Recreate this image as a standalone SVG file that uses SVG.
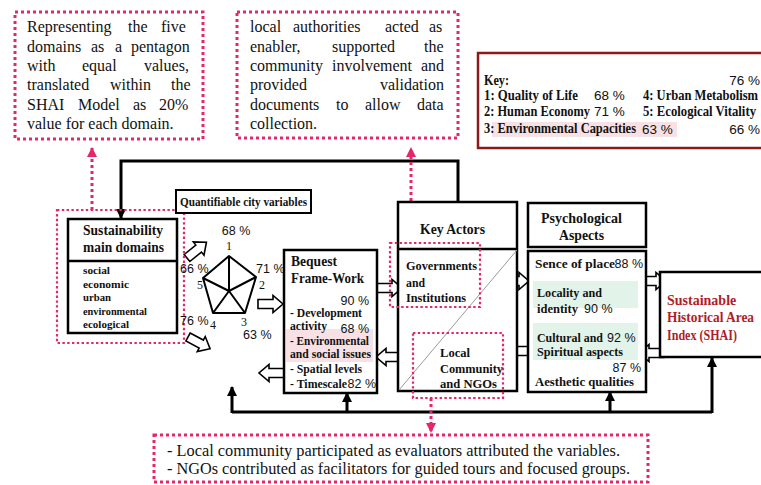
<svg xmlns="http://www.w3.org/2000/svg" width="761" height="485" viewBox="0 0 761 485">
<style>
.serif{font-family:"Liberation Serif","Times New Roman",serif;fill:#111}
.b{font-weight:bold}
.sans{font-family:"Liberation Sans",Arial,sans-serif;fill:#111}
.box{fill:#fff;stroke:#000;stroke-width:2.5}
.dot{fill:none;stroke:#e5266a;stroke-width:3;stroke-dasharray:3 3}
.dots{fill:none;stroke:#e5266a;stroke-width:2.2;stroke-dasharray:2.4 2.4}
.ha{fill:#fff;stroke:#000;stroke-width:1.6;stroke-linejoin:miter}
.conn{fill:none;stroke:#000;stroke-width:3}
.note{font-size:16px}
.red{fill:#b01c2a}
</style>
<defs>
<marker id="ah" viewBox="0 0 10 10" refX="9" refY="5" markerWidth="10" markerHeight="10" markerUnits="userSpaceOnUse" orient="auto">
<path d="M0,0 L10,5 L0,10 Z" fill="#000"/>
</marker>
<marker id="pah" viewBox="0 0 10 10" refX="9" refY="5" markerWidth="10" markerHeight="10" markerUnits="userSpaceOnUse" orient="auto">
<path d="M0,0 L10,5 L0,10 Z" fill="#e5266a"/>
</marker>
<path id="harrow" d="M0,-4.5 H15 V-8.5 L25,0 L15,8.5 V4.5 H0 Z"/>
</defs>
<rect width="761" height="485" fill="#fff"/>

<!-- Notes -->
<g id="note1">
<rect class="dot" x="15" y="12" width="188" height="127"/>
<text class="serif note"><tspan x="27" y="32">Representing</tspan><tspan x="128" y="32">the</tspan><tspan x="161" y="32">five</tspan></text>
<text class="serif note"><tspan x="27" y="52">domains</tspan><tspan x="91" y="52">as</tspan><tspan x="115" y="52">a</tspan><tspan x="131" y="52">pentagon</tspan></text>
<text class="serif note"><tspan x="27" y="71">with</tspan><tspan x="82" y="71">equal</tspan><tspan x="144" y="71">values,</tspan></text>
<text class="serif note"><tspan x="27" y="90">translated</tspan><tspan x="110" y="90">within</tspan><tspan x="171" y="90">the</tspan></text>
<text class="serif note"><tspan x="27" y="110">SHAI</tspan><tspan x="78" y="110">Model</tspan><tspan x="133" y="110">as</tspan><tspan x="159" y="110">20%</tspan></text>
<text class="serif note" x="27" y="129">value for each domain.</text>
</g>

<g id="note2">
<rect class="dot" x="237" y="12" width="221" height="126"/>
<text class="serif note"><tspan x="250" y="32">local</tspan><tspan x="293" y="32">authorities</tspan><tspan x="385" y="32">acted</tspan><tspan x="429" y="32">as</tspan></text>
<text class="serif note"><tspan x="250" y="52">enabler,</tspan><tspan x="332" y="52">supported</tspan><tspan x="424" y="52">the</tspan></text>
<text class="serif note"><tspan x="250" y="71">community</tspan><tspan x="332" y="71">involvement</tspan><tspan x="421" y="71">and</tspan></text>
<text class="serif note"><tspan x="250" y="90">provided</tspan><tspan x="380" y="90">validation</tspan></text>
<text class="serif note"><tspan x="250" y="110">documents</tspan><tspan x="336" y="110">to</tspan><tspan x="365" y="110">allow</tspan><tspan x="417" y="110">data</tspan></text>
<text class="serif note" x="250" y="129">collection.</text>
</g>

<g id="note3">
<rect class="dot" x="154" y="435" width="494" height="47"/>
<text class="serif" font-size="16" x="167" y="456" textLength="453" lengthAdjust="spacingAndGlyphs">- Local community participated as evaluators attributed the variables.</text>
<text class="serif" font-size="16" x="167" y="474" textLength="463" lengthAdjust="spacingAndGlyphs">- NGOs contributed as facilitators for guided tours and focused groups.</text>
</g>

<!-- Key -->
<g id="key">
<rect x="478" y="53" width="290" height="95" fill="#fff" stroke="#8b1a1a" stroke-width="2.5"/>
<rect x="492" y="122" width="185" height="15" fill="#f8e1e4"/>
<text class="serif b" font-size="14" x="484" y="85" textLength="25" lengthAdjust="spacingAndGlyphs">Key:</text>
<text class="sans" font-size="13.5" x="760" y="85" text-anchor="end">76 %</text>
<text class="serif b" font-size="14" x="484" y="100" textLength="94" lengthAdjust="spacingAndGlyphs">1: Quality of Life</text>
<text class="sans" font-size="13.5" x="594" y="100">68 %</text>
<text class="serif b" font-size="14" x="643" y="100" textLength="115" lengthAdjust="spacingAndGlyphs">4: Urban Metabolism</text>
<text class="serif b" font-size="14" x="484" y="116" textLength="106" lengthAdjust="spacingAndGlyphs">2: Human Economy</text>
<text class="sans" font-size="13.5" x="594" y="116">71 %</text>
<text class="serif b" font-size="14" x="643" y="116" textLength="113" lengthAdjust="spacingAndGlyphs">5: Ecological Vitality</text>
<text class="serif b" font-size="14" x="484" y="133" textLength="152" lengthAdjust="spacingAndGlyphs">3: Environmental Capacities</text>
<text class="sans" font-size="13.5" x="642" y="134">63 %</text>
<text class="sans" font-size="13.5" x="760" y="134" text-anchor="end">66 %</text>
</g>

<!-- Connectors -->
<g id="connectors">
<path class="conn" d="M458,202 V161 H121 V218" marker-end="url(#ah)"/>
<path class="conn" d="M232,412 H712"/>
<path class="conn" d="M232,413 V387" marker-end="url(#ah)"/>
<path class="conn" d="M347,413 V393" marker-end="url(#ah)"/>
<path class="conn" d="M610,413 V392" marker-end="url(#ah)"/>
<path class="conn" d="M712,413 V358" marker-end="url(#ah)"/>
<path class="dot" d="M92,210 V148" marker-end="url(#pah)"/>
<path class="dot" d="M411,243 V148" marker-end="url(#pah)"/>
<path class="dot" d="M431,398 V432" marker-end="url(#pah)"/>
<use href="#harrow" class="ha" transform="translate(258,304)"/>
<use href="#harrow" class="ha" transform="translate(377,288)"/>
<use href="#harrow" class="ha" transform="translate(401,357) rotate(180)"/>
<use href="#harrow" class="ha" transform="translate(284,373) rotate(180)"/>
<use href="#harrow" class="ha" transform="translate(504,281)"/>
<use href="#harrow" class="ha" transform="translate(528,351) rotate(180)"/>
<use href="#harrow" class="ha" transform="translate(641,281)"/>
<use href="#harrow" class="ha" transform="translate(664,353) rotate(180)"/>
<use href="#harrow" class="ha" transform="translate(187,258) rotate(-39)"/>
<use href="#harrow" class="ha" transform="translate(188,337) rotate(28)"/>
</g>

<!-- Sustainability main domains -->
<g id="sustainability">
<rect class="dots" x="57" y="210" width="127" height="133"/>
<rect class="box" x="68" y="219" width="109" height="114"/>
<line x1="68" y1="261" x2="177" y2="261" stroke="#000" stroke-width="2.5"/>
<text class="serif b" font-size="15" x="83" y="235" textLength="80" lengthAdjust="spacingAndGlyphs">Sustainability</text>
<text class="serif b" font-size="15" x="83" y="252" textLength="81" lengthAdjust="spacingAndGlyphs">main domains</text>
<text class="serif b" font-size="11" x="83" y="274" textLength="27" lengthAdjust="spacingAndGlyphs">social</text>
<text class="serif b" font-size="11" x="83" y="288" textLength="46" lengthAdjust="spacingAndGlyphs">economic</text>
<text class="serif b" font-size="11" x="83" y="301" textLength="28" lengthAdjust="spacingAndGlyphs">urban</text>
<text class="serif b" font-size="11" x="83" y="315" textLength="64" lengthAdjust="spacingAndGlyphs">environmental</text>
<text class="serif b" font-size="11" x="83" y="328" textLength="46" lengthAdjust="spacingAndGlyphs">ecological</text>
</g>

<g id="quantifiable">
<rect x="176" y="190" width="135" height="23" fill="#fff" stroke="#000" stroke-width="2"/>
<text class="serif b" font-size="11.5" x="180" y="206" textLength="127" lengthAdjust="spacingAndGlyphs">Quantifiable city variables</text>
</g>

<g id="pentagon">
<path d="M229,256 L256,277 L245,313 L213,313 L203,278 Z M229,256 L229,291 M203,278 L229,291 L256,277 M213,313 L229,291 L245,313" fill="none" stroke="#000" stroke-width="2" stroke-linejoin="round"/>
<text class="sans" font-size="12.5" x="236" y="235" text-anchor="middle">68 %</text>
<text class="serif" font-size="12" x="229" y="250" text-anchor="middle">1</text>
<text class="sans" font-size="12.5" x="256" y="273">71 %</text>
<text class="serif" font-size="12" x="262" y="289" text-anchor="middle">2</text>
<text class="sans" font-size="12.5" x="180" y="273">66 %</text>
<text class="serif" font-size="12" x="200" y="289" text-anchor="middle">5</text>
<text class="sans" font-size="12.5" x="180" y="325">76 %</text>
<text class="serif" font-size="12" x="213" y="329" text-anchor="middle">4</text>
<text class="serif" font-size="12" x="244" y="326" text-anchor="middle">3</text>
<text class="sans" font-size="12.5" x="243" y="339">63 %</text>
</g>

<!-- Bequest -->
<g id="bequest">
<rect class="box" x="284" y="250" width="93" height="143"/>
<rect x="286" y="329" width="87" height="33" fill="#f8e1e4"/>
<text class="serif b" font-size="15" x="291" y="266" textLength="46" lengthAdjust="spacingAndGlyphs">Bequest</text>
<text class="serif b" font-size="15" x="291" y="283" textLength="73" lengthAdjust="spacingAndGlyphs">Frame-Work</text>
<text class="sans" font-size="12.5" x="369" y="305" text-anchor="end">90 %</text>
<text class="serif b" font-size="12.5" x="290" y="317" textLength="72" lengthAdjust="spacingAndGlyphs">- Development</text>
<text class="serif b" font-size="12.5" x="290" y="330" textLength="37" lengthAdjust="spacingAndGlyphs">activity</text>
<text class="sans" font-size="12.5" x="369" y="333" text-anchor="end">68 %</text>
<text class="serif b" font-size="12.5" x="290" y="345" textLength="79" lengthAdjust="spacingAndGlyphs">- Environmental</text>
<text class="serif b" font-size="12.5" x="290" y="358" textLength="81" lengthAdjust="spacingAndGlyphs">and social issues</text>
<text class="serif b" font-size="12.5" x="290" y="373" textLength="72" lengthAdjust="spacingAndGlyphs">- Spatial levels</text>
<text class="serif b" font-size="12.5" x="290" y="388" textLength="57" lengthAdjust="spacingAndGlyphs">- Timescale</text>
<text class="sans" font-size="12.5" x="376" y="388" text-anchor="end">82 %</text>
</g>

<!-- Key Actors -->
<g id="key-actors">
<rect class="box" x="398" y="202" width="119" height="189"/>
<line x1="398" y1="249" x2="517" y2="249" stroke="#000" stroke-width="2.5"/>
<line x1="517" y1="250" x2="399" y2="390" stroke="#9a9a9a" stroke-width="1"/>
<text class="serif b" font-size="15" x="420" y="234" textLength="65" lengthAdjust="spacingAndGlyphs">Key Actors</text>
<rect class="dots" x="390" y="243" width="90" height="64"/>
<text class="serif b" font-size="13.5" x="406" y="270" textLength="71" lengthAdjust="spacingAndGlyphs">Governments</text>
<text class="serif b" font-size="13.5" x="406" y="287" textLength="19" lengthAdjust="spacingAndGlyphs">and</text>
<text class="serif b" font-size="13.5" x="406" y="302" textLength="60" lengthAdjust="spacingAndGlyphs">Institutions</text>
<rect class="dots" x="413" y="333" width="90" height="65"/>
<text class="serif b" font-size="13.5" x="440" y="357" textLength="30" lengthAdjust="spacingAndGlyphs">Local</text>
<text class="serif b" font-size="13.5" x="440" y="373" textLength="63" lengthAdjust="spacingAndGlyphs">Community</text>
<text class="serif b" font-size="13.5" x="440" y="388" textLength="57" lengthAdjust="spacingAndGlyphs">and NGOs</text>
</g>

<!-- Psychological Aspects -->
<g id="psychological">
<rect class="box" x="528" y="203" width="118" height="44"/>
<text class="serif b" font-size="15" x="541" y="223" textLength="81" lengthAdjust="spacingAndGlyphs">Psychological</text>
<text class="serif b" font-size="15" x="559" y="240" textLength="45" lengthAdjust="spacingAndGlyphs">Aspects</text>
<rect class="box" x="528" y="251" width="118" height="141"/>
<rect x="533" y="281" width="105" height="27" fill="#e2f3ea"/>
<rect x="533" y="323" width="105" height="37" fill="#e2f3ea"/>
<text class="serif b" font-size="13.5" x="535" y="268" textLength="80" lengthAdjust="spacingAndGlyphs">Sence of place</text>
<text class="sans" font-size="12.5" x="643" y="268" text-anchor="end">88 %</text>
<text class="serif b" font-size="13.5" x="537" y="297" textLength="65" lengthAdjust="spacingAndGlyphs">Locality and</text>
<text class="serif b" font-size="13.5" x="537" y="313" textLength="41" lengthAdjust="spacingAndGlyphs">identity</text>
<text class="sans" font-size="12.5" x="584" y="313">90 %</text>
<text class="serif b" font-size="13.5" x="537" y="342" textLength="66" lengthAdjust="spacingAndGlyphs">Cultural and</text>
<text class="sans" font-size="12.5" x="607" y="342">92 %</text>
<text class="serif b" font-size="13.5" x="537" y="356" textLength="86" lengthAdjust="spacingAndGlyphs">Spiritual aspects</text>
<text class="sans" font-size="12.5" x="641" y="372" text-anchor="end">87 %</text>
<text class="serif b" font-size="13.5" x="535" y="386" textLength="99" lengthAdjust="spacingAndGlyphs">Aesthetic qualities</text>
</g>

<!-- SHAI -->
<g id="shai">
<rect class="box" x="660" y="272" width="110" height="85"/>
<text class="serif b red" font-size="14" x="667" y="305">Sustainable</text>
<text class="serif b red" font-size="14" x="667" y="322" textLength="87" lengthAdjust="spacingAndGlyphs">Historical Area</text>
<text class="serif b red" font-size="14" x="667" y="340" textLength="70" lengthAdjust="spacingAndGlyphs">Index (SHAI)</text>
</g>
</svg>
